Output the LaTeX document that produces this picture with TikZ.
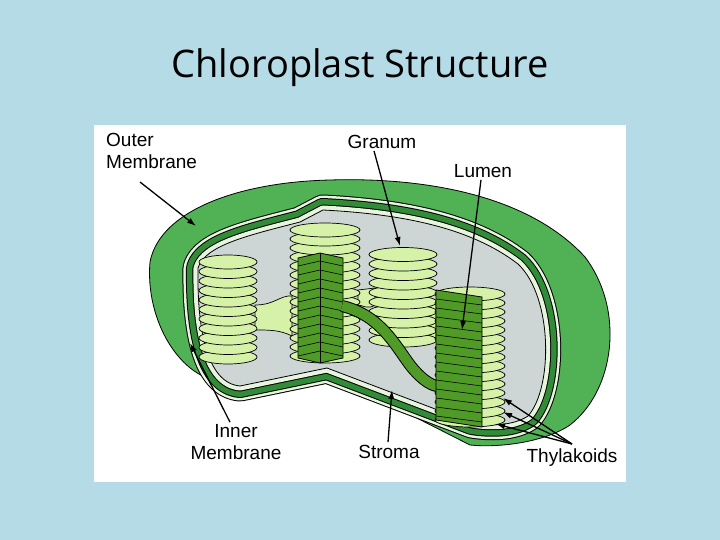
\documentclass[tikz,border=0pt]{standalone}
\usepackage{fontspec}
\setmainfont{Liberation Sans}
\newfontfamily\titlefont{Open Sans}
\definecolor{bg}{RGB}{181,219,230}
\definecolor{outg}{RGB}{80,178,84}
\definecolor{darkg}{RGB}{50,140,55}
\definecolor{paleg}{RGB}{232,245,222}
\definecolor{stroma}{RGB}{205,213,213}
\definecolor{disc}{RGB}{214,242,168}
\definecolor{cutg}{RGB}{80,155,40}
\begin{document}
\begin{tikzpicture}[x=1pt,y=-1pt,
  lbl/.style={font=\fontsize{19}{22}\selectfont, align=center, inner sep=0pt},
  ptr/.style={-{Latex[length=9pt,width=6pt]}, line width=1.3pt},
  dsc/.style={draw=black, fill=disc, line width=0.7pt}]
\usetikzlibrary{arrows.meta}
\fill[bg] (0,0) rectangle (720,540);
\fill[white] (94,125) rectangle (626,482);
\node[font=\titlefont\fontsize{38}{40}\selectfont] (title) at (360,68) {Chloroplast Structure};
% outer body
\draw[fill=outg, line width=0.8pt] (150,262) .. controls (160,210) and (240,182) .. (330,180)
  .. controls (430,177) and (530,197) .. (585,257)
  .. controls (625,310) and (615,390) .. (570,425)
  .. controls (545,442) and (500,448) .. (470,445)
  -- (326,372) -- (225,382)
  .. controls (180,380) and (145,320) .. (150,262) -- cycle;
% cut face with membrane strips
\def\cutface{(198,268) .. controls (205,245) and (250,235) .. (300,222)
  -- (323,210) .. controls (400,214) and (470,227) .. (518,264)
  .. controls (553,297) and (553,388) .. (528,416)
  .. controls (513,426) and (490,426) .. (472,423)
  -- (327,368) -- (240,386) .. controls (207,383) and (197,330) .. (198,268) -- cycle}
\draw[black, line width=31pt, line join=round] \cutface;
\draw[paleg, line width=29pt, line join=round] \cutface;
\draw[black, line width=24pt, line join=round] \cutface;
\draw[darkg, line width=22pt, line join=round] \cutface;
\draw[black, line width=11pt, line join=round] \cutface;
\draw[paleg, line width=9pt, line join=round] \cutface;
\draw[fill=stroma, line width=0.8pt] \cutface;
% lamellae
\draw[dsc] (255,305) .. controls (275,305) and (280,295) .. (292,296) -- (292,336) .. controls (280,330) and (270,330) .. (255,330) -- cycle;
\draw[dsc] (358,290) -- (375,288) -- (375,305) .. controls (368,310) and (362,305) .. (358,305) -- cycle;
\draw[dsc] (436,300) .. controls (420,305) and (400,300) .. (398,320) .. controls (400,340) and (425,335) .. (436,340) -- cycle;
% stacks
\foreach \y in {357,347.5,...,262} {\draw[dsc] (228,\y) ellipse (29 and 7);}
\foreach \y in {356,347,...,228} {\draw[dsc] (325,\y) ellipse (35 and 7);}
\foreach \y in {340,330.5,...,252} {\draw[dsc] (403,\y) ellipse (34 and 7);}
\foreach \y in {420,411,...,292} {\draw[dsc] (470,\y) ellipse (35 and 7);}
% cut sections
\draw[fill=cutg, line width=0.8pt] (298,258) -- (320,253) -- (343,258) -- (343,358) -- (320,363) -- (298,358) -- cycle;
\foreach \y in {266,275,...,356} {\draw[line width=0.6pt] (298,\y) -- (320,\y-5) -- (343,\y);}
\draw (320,253) -- (320,363);
% tube
\draw[line width=12pt, line cap=butt] (342,306) .. controls (380,315) and (395,345) .. (410,365) .. controls (420,378) and (430,385) .. (437,386);
\draw[cutg, line width=10pt, line cap=butt] (342,306) .. controls (380,315) and (395,345) .. (410,365) .. controls (420,378) and (430,385) .. (437,386);
\draw[fill=cutg, line width=0.8pt] (436,290) -- (482,297) -- (482,427) -- (436,420) -- cycle;
\foreach \y in {299,308,...,416} {\draw[line width=0.6pt] (436,\y) -- (482,\y+6);}
% labels
\node[lbl, align=left, anchor=north west] (outer) at (106,133) {Outer\\Membrane};
\node[lbl] (granum) at (382,142) {Granum};
\node[lbl] (lumen) at (483,171) {Lumen};
\node[lbl] (inner) at (236,442) {Inner\\Membrane};
\node[lbl] (stromal) at (389,452) {Stroma};
\node[lbl] (thyl) at (572,458) {Thylakoids};
\coordinate (a1) at (196,226);
\coordinate (a2) at (400,246);
\coordinate (a3) at (462,330);
\coordinate (a4) at (190,343);
\coordinate (a5) at (392,390);
\coordinate (t1) at (503,398);
\coordinate (t2) at (503,412);
\coordinate (t3) at (496,424);
\coordinate (ts) at (572,444);
\draw[ptr] (140,182) -- (a1);
\draw[ptr] (granum.south) ++(-8,2) -- (a2);
\draw[ptr] (lumen.south) ++(-2,2) -- (a3);
\draw[ptr] (inner.north) ++(-6,-2) -- (a4);
\draw[ptr] (stromal.north) ++(-1,-3) -- (a5);
\draw[ptr] (ts) -- (t1);
\draw[ptr] (ts) -- (t2);
\draw[ptr] (ts) -- (t3);
\end{tikzpicture}
\end{document}
